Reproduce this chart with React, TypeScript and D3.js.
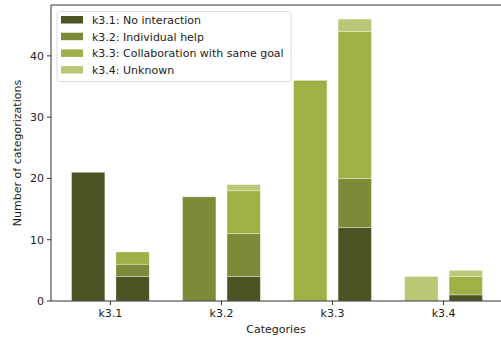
import React from "react";
import * as d3 from "d3";

const categories = ["k3.1", "k3.2", "k3.3", "k3.4"];
const seriesNames = [
  "k3.1: No interaction",
  "k3.2: Individual help",
  "k3.3: Collaboration with same goal",
  "k3.4: Unknown",
];
const colors = ["#4d5423", "#7d8a38", "#a0b046", "#b9c776"];
// left single bars: total per category
const singleValues = [21, 17, 36, 4];
// right stacked bars: rows = categories, cols = series
const stackK31 = [4, 2, 2, 0];
const stackK32 = [4, 7, 7, 1];
const stackK33 = [12, 8, 24, 2];
const stackK34 = [1, 0, 3, 1];
const stacks = [stackK31, stackK32, stackK33, stackK34];
const yTicks = [0, 10, 20, 30, 40];

export default function App() {
  const W = 501, H = 337;
  const left = 51, right = 503, top = 5, bottom = 301;
  const x = d3.scaleLinear().domain([-0.535, 3.535]).range([left, right]);
  const y = d3.scaleLinear().domain([0, 48.3]).range([bottom, top]);
  const bw = 0.3;
  const off = 0.2;
  const font = "DejaVu Sans, sans-serif";
  const fs = 11;

  const bars: React.ReactNode[] = [];
  categories.forEach((c, i) => {
    const x0 = x(i - off - bw / 2);
    const x1 = x(i - off + bw / 2);
    bars.push(
      <rect key={"s" + i} x={x0} y={y(singleValues[i])} width={x1 - x0}
        height={y(0) - y(singleValues[i])} fill={colors[i]}
        stroke="#ffffff" strokeOpacity={0.4} strokeWidth={0.8} />
    );
    let acc = 0;
    stacks[i].forEach((v, j) => {
      if (v <= 0) return;
      const a = x(i + off - bw / 2);
      const b = x(i + off + bw / 2);
      bars.push(
        <rect key={"t" + i + "-" + j} x={a} y={y(acc + v)} width={b - a}
          height={y(acc) - y(acc + v)} fill={colors[j]}
          stroke="#ffffff" strokeOpacity={0.4} strokeWidth={0.8} />
      );
      acc += v;
    });
  });

  return (
    <svg width={W} height={H} style={{ position: "absolute", left: 0, top: 0 }}
      fontFamily={font}>
      <rect x={0} y={0} width={W} height={H} fill="#fff" />
      {bars}
      {/* axes frame */}
      <line x1={left} x2={left} y1={top} y2={bottom} stroke="#333" strokeWidth={1} />
      <line x1={left} x2={W} y1={bottom} y2={bottom} stroke="#333" strokeWidth={1} />
      <line x1={left} x2={W} y1={top} y2={top} stroke="#333" strokeWidth={1} />
      {yTicks.map((t) => (
        <g key={t}>
          <line x1={left - 4} x2={left} y1={y(t)} y2={y(t)} stroke="#333" />
          <text x={left - 7} y={y(t)} dy="0.35em" textAnchor="end" fontSize={fs} fill="#222">{t}</text>
        </g>
      ))}
      {categories.map((c, i) => (
        <g key={c}>
          <line x1={x(i)} x2={x(i)} y1={bottom} y2={bottom + 4} stroke="#333" />
          <text x={x(i)} y={bottom + 16} textAnchor="middle" fontSize={fs} fill="#222">{c}</text>
        </g>
      ))}
      <text x={(left + W) / 2} y={333} textAnchor="middle" fontSize={fs} fill="#222">Categories</text>
      <text transform={`translate(21,${(top + bottom) / 2}) rotate(-90)`} textAnchor="middle"
        fontSize={fs} fill="#222">Number of categorizations</text>
      {/* legend */}
      <rect x={57} y={11.5} width={234} height={70} rx={2.5} fill="#fff" fillOpacity={0.8}
        stroke="#ddd" strokeWidth={1} />
      {seriesNames.map((s, i) => (
        <g key={s}>
          <rect x={61} y={16 + i * 16.7} width={22} height={7.5} fill={colors[i]} />
          <text x={92} y={20 + i * 16.7} dy="0.35em" fontSize={fs} fill="#222">{s}</text>
        </g>
      ))}
    </svg>
  );
}
